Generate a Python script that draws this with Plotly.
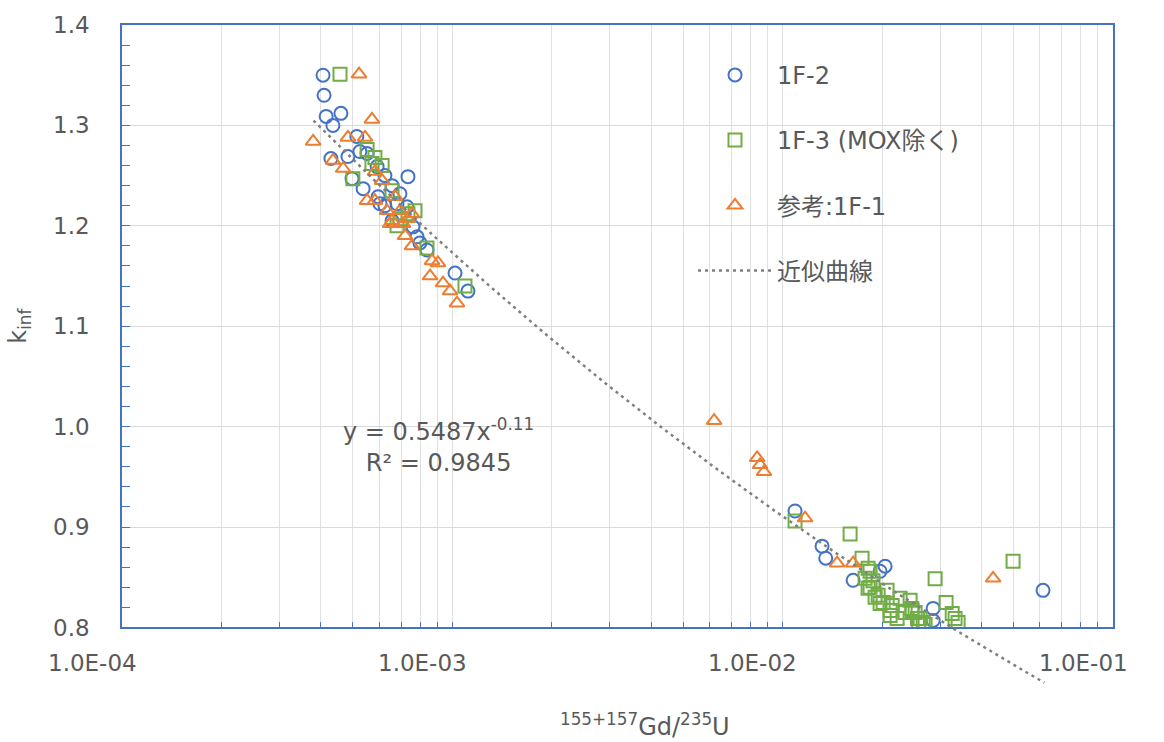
import numpy as np
import plotly.graph_objects as go

# ---------------- data ----------------
# 1F-2 (blue circles)
f2_x = [4.06e-4, 4.09e-4, 4.15e-4, 4.60e-4, 4.35e-4, 4.29e-4, 4.83e-4, 5.14e-4, 5.25e-4, 5.52e-4,
        4.97e-4, 5.37e-4, 5.92e-4, 6.25e-4, 5.96e-4, 6.57e-4, 6.04e-4, 6.94e-4, 6.25e-4, 7.34e-4,
        6.80e-4, 7.29e-4, 6.57e-4, 7.60e-4, 7.82e-4, 7.98e-4, 8.38e-4, 1.019e-3, 1.115e-3,
        1.090e-2, 1.316e-2, 1.350e-2, 1.634e-2, 1.972e-2, 2.042e-2, 2.854e-2, 2.854e-2, 6.14e-2]
f2_y = [1.350, 1.330, 1.309, 1.312, 1.300, 1.267, 1.269, 1.289, 1.274, 1.272,
        1.247, 1.237, 1.259, 1.250, 1.229, 1.240, 1.222, 1.232, 1.220, 1.249,
        1.222, 1.219, 1.205, 1.199, 1.189, 1.183, 1.176, 1.153, 1.135,
        0.916, 0.881, 0.869, 0.847, 0.856, 0.861, 0.819, 0.807, 0.837]

# 1F-3 (MOX除く) (green squares)
f3_x = [4.57e-4, 5.52e-4, 5.83e-4, 6.13e-4, 5.00e-4, 5.71e-4, 6.57e-4, 7.71e-4, 7.34e-4, 6.80e-4,
        6.94e-4, 8.38e-4, 1.092e-3,
        1.090e-2, 1.600e-2, 1.739e-2, 1.814e-2, 1.776e-2, 1.839e-2, 1.904e-2, 1.972e-2, 2.115e-2,
        2.221e-2, 2.431e-2, 2.466e-2, 2.607e-2, 1.839e-2, 1.877e-2, 1.814e-2, 1.945e-2, 2.014e-2,
        2.145e-2, 2.115e-2, 2.460e-2, 2.560e-2, 2.662e-2, 2.894e-2, 3.124e-2, 3.260e-2, 3.397e-2,
        4.983e-2, 2.070e-2, 2.268e-2, 2.348e-2, 2.517e-2, 2.580e-2, 2.699e-2, 3.326e-2]
f3_y = [1.351, 1.276, 1.268, 1.260, 1.247, 1.262, 1.235, 1.215, 1.212, 1.200,
        1.207, 1.178, 1.140,
        0.906, 0.893, 0.869, 0.859, 0.849, 0.840, 0.830, 0.824, 0.817,
        0.809, 0.827, 0.817, 0.809, 0.856, 0.8465, 0.839, 0.832, 0.825,
        0.822, 0.812, 0.819, 0.809, 0.805, 0.8485, 0.825, 0.814, 0.805,
        0.866, 0.837, 0.829, 0.815, 0.815, 0.803, 0.803, 0.809]

# 参考:1F-1 (orange triangles)
f1_x = [5.22e-4, 5.71e-4, 3.79e-4, 4.83e-4, 5.44e-4, 4.35e-4, 4.67e-4, 5.83e-4, 6.13e-4, 5.52e-4,
        5.83e-4, 6.34e-4, 6.71e-4, 6.94e-4, 6.57e-4, 7.09e-4, 7.19e-4, 7.55e-4, 8.68e-4, 9.05e-4,
        8.56e-4, 9.37e-4, 9.84e-4, 1.033e-3, 7.34e-4, 7.55e-4, 6.48e-4,
        6.20e-3, 8.37e-3, 8.54e-3, 8.78e-3, 1.169e-2, 1.461e-2, 1.634e-2, 4.335e-2]
f1_y = [1.351, 1.306, 1.284, 1.288, 1.288, 1.265, 1.257, 1.254, 1.245, 1.225,
        1.225, 1.215, 1.229, 1.215, 1.205, 1.202, 1.190, 1.180, 1.165, 1.163,
        1.150, 1.143, 1.135, 1.123, 1.207, 1.212, 1.202,
        1.006, 0.969, 0.962, 0.955, 0.909, 0.864, 0.864, 0.849]

# power-law trendline shown on the chart: y = 0.5487 x^-0.11
TREND_A = 0.5487
TREND_B = -0.11
TREND_X_MIN = 3.8e-4
TREND_X_MAX = 6.2e-2

x_major = [1e-4, 1e-3, 1e-2, 1e-1]
x_tick_labels = ["1.0E-04", "1.0E-03", "1.0E-02", "1.0E-01"]
x_minor_mult = [2, 3, 4, 5, 6, 7, 8, 9]
y_ticks = [0.8, 0.9, 1.0, 1.1, 1.2, 1.3, 1.4]
y_tick_labels = ["0.8", "0.9", "1.0", "1.1", "1.2", "1.3", "1.4"]

# ---------------- styling ----------------
FONT = "DejaVu Sans, Noto Sans CJK JP, sans-serif"
TXT = "#595959"
BLUE = "#4472C4"
GREEN = "#70AD47"
ORANGE = "#ED7D31"
AXIS = "#4472C4"
GRID = "#E0E0E0"

W, H = 1164, 742
L, R, T, B = 122, 51, 20, 50
plot_w = W - L - R
plot_h = H - T - B
axis_bottom_px = 627
y0 = (H - B - axis_bottom_px) / plot_h
px_per_unit = (axis_bottom_px - T) / (y_ticks[-1] - y_ticks[0])
y2_min = y_ticks[-1] - plot_h / px_per_unit


def py(p):
    """pixel row -> paper y"""
    return (H - B - p) / plot_h


def pxx(p):
    """pixel column -> paper x"""
    return (p - L) / plot_w


tickvals = []
for i, d in enumerate(x_major):
    tickvals.append(d)
    if i < len(x_major) - 1:
        for m in x_minor_mult:
            tickvals.append(m * d)

trend_x = np.logspace(np.log10(TREND_X_MIN), np.log10(TREND_X_MAX), 300)
trend_y = TREND_A * trend_x ** TREND_B

fig = go.Figure()
fig.add_trace(go.Scatter(
    x=f2_x, y=f2_y, mode="markers", name="1F-2", legendgroup="a",
    marker=dict(symbol="circle-open", size=13, color=BLUE, line=dict(width=2, color=BLUE))))
fig.add_trace(go.Scatter(
    x=f3_x, y=f3_y, mode="markers", name="1F-3 (MOX除く)", legendgroup="b",
    marker=dict(symbol="square-open", size=13, color=GREEN, line=dict(width=2, color=GREEN))))
fig.add_trace(go.Scatter(
    x=f1_x, y=f1_y, mode="markers", name="参考:1F-1", legendgroup="c",
    marker=dict(symbol="triangle-up-open", size=13, color=ORANGE, line=dict(width=2, color=ORANGE))))
fig.add_trace(go.Scatter(
    x=trend_x, y=trend_y, mode="lines", name="近似曲線", legendgroup="d",
    xaxis="x2", yaxis="y2",
    line=dict(color="#7F7F7F", width=2.5, dash="3px,4px")))

annotations = []
for v, lab in zip(x_major, x_tick_labels):
    annotations.append(dict(text=lab, xref="x", yref="paper", x=np.log10(v), y=py(663),
                            xanchor="center", yanchor="middle", xshift=-30, showarrow=False,
                            font=dict(size=23, color=TXT, family=FONT)))
annotations += [
    dict(text="y = 0.5487x<sup>-0.11</sup><br>R² = 0.9845", xref="paper", yref="paper",
         x=pxx(438), y=py(444), xanchor="center", yanchor="middle",
         showarrow=False, align="center", font=dict(size=24, color=TXT, family=FONT)),
    dict(text="<sup>155+157</sup>Gd/<sup>235</sup>U", xref="paper", yref="paper",
         x=pxx(645), y=py(725), xanchor="center", yanchor="middle",
         showarrow=False, font=dict(size=24, color=TXT, family=FONT)),
    dict(text="k<sub>inf</sub>", xref="paper", yref="paper", textangle=-90,
         x=pxx(20), y=py(323), xanchor="center", yanchor="middle",
         showarrow=False, font=dict(size=24, color=TXT, family=FONT)),
]

fig.update_layout(
    width=W, height=H,
    margin=dict(l=L, r=R, t=T, b=B, pad=0),
    paper_bgcolor="white",
    plot_bgcolor="rgba(0,0,0,0)",
    font=dict(family=FONT, color=TXT, size=22),
    showlegend=True,
    xaxis=dict(
        type="log", range=[-4, -1], domain=[0, 1], anchor="y",
        tickmode="array", tickvals=tickvals, ticktext=[""] * len(tickvals),
        ticks="inside", ticklen=6, tickwidth=1, tickcolor=AXIS,
        showgrid=True, gridcolor=GRID, gridwidth=1,
        showline=True, linecolor=AXIS, linewidth=1.5, mirror=True,
        zeroline=False,
    ),
    yaxis=dict(
        range=[0.8, 1.4], domain=[y0, 1], anchor="x",
        tickmode="array", tickvals=y_ticks, ticktext=y_tick_labels,
        ticks="inside", ticklen=8, tickwidth=1, tickcolor=AXIS,
        minor=dict(tickmode="linear", tick0=0.8, dtick=0.02, ticks="inside", ticklen=8,
                   tickcolor=AXIS, tickwidth=1, showgrid=False),
        showgrid=True, gridcolor="#D9D9D9", gridwidth=1,
        showline=True, linecolor=AXIS, linewidth=1.5, mirror=True,
        zeroline=False, tickfont=dict(size=23, color=TXT, family=FONT),
        ticklabelstandoff=26,
    ),
    xaxis2=dict(type="log", range=[-4, -1], domain=[0, 1], anchor="y2", visible=False,
                showgrid=False, zeroline=False),
    yaxis2=dict(range=[y2_min, 1.4], domain=[0, 1], anchor="x2", visible=False,
                showgrid=False, zeroline=False),
    legend=dict(
        x=pxx(693), y=py(48), xanchor="left", yanchor="top",
        font=dict(size=24, color=TXT, family=FONT),
        bgcolor="rgba(0,0,0,0)", tracegroupgap=31, itemwidth=74,
    ),
    annotations=annotations,
)

fig.write_html("out.html")
